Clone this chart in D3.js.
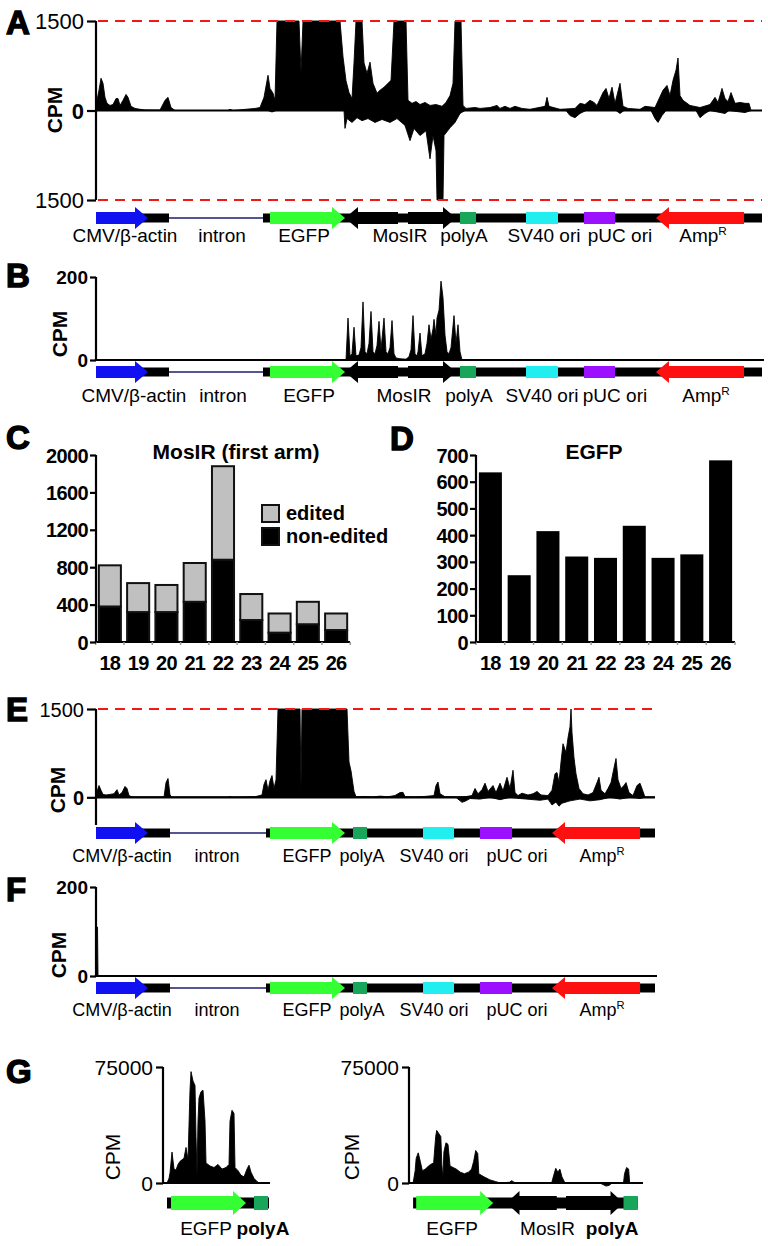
<!DOCTYPE html>
<html><head><meta charset="utf-8">
<script src="https://cdn.jsdelivr.net/npm/d3@7"></script>
<style>
body{margin:0;background:#fff}
svg text{font-family:"Liberation Sans",Arial,Helvetica,sans-serif;fill:#000}
</style>
</head><body><script>
// ================= DATA =================
// Plasmid positions are given in 12-bp bins.
const mosLength = 666;           // pCAG-EGFP-MosIR
const ctlLength = 559;           // pCAG-EGFP (control)
const mosIntron = [73, 167];
const ctlIntron = [74, 170];
// [feature, start, end, orientation]
const mosFeatures = [
  ["promoter", 0, 52, "+"],
  ["EGFP", 174, 249, "+"],
  ["MosIR", 249, 302, "-"],
  ["MosIR", 312, 360, "+"],
  ["polyA", 364, 380, "box"],
  ["SV40", 430, 462, "box"],
  ["pUC", 488, 519, "box"],
  ["AmpR", 560, 648, "-"]
];
const ctlFeatures = [
  ["promoter", 0, 52, "+"],
  ["EGFP", 174, 249, "+"],
  ["polyA", 257, 271, "box"],
  ["SV40", 327, 358, "box"],
  ["pUC", 384, 416, "box"],
  ["AmpR", 456, 544, "-"]
];
const gRightFeatures = [
  ["EGFP", 174, 249, "+"],
  ["MosIR", 262, 311, "-"],
  ["MosIR", 320, 376, "+"],
  ["polyA", 376, 390, "box"]
];
const labelsA = [["CMV/β-actin", 29], ["intron", 126], ["EGFP", 208], ["MosIR", 304], ["polyA", 368], ["SV40 ori", 448], ["pUC ori", 524], ["AmpR", 607]];
const labelsB = [["CMV/β-actin", 38], ["intron", 127], ["EGFP", 213], ["MosIR", 308], ["polyA", 373], ["SV40 ori", 446], ["pUC ori", 519], ["AmpR", 610]];
const labelsCtl = [["CMV/β-actin", 26], ["intron", 121], ["EGFP", 211], ["polyA", 266], ["SV40 ori", 338], ["pUC ori", 421], ["AmpR", 506]];
const labelsGLeft = [["EGFP", 209], ["polyA", 266]];
const labelsGRight = [["EGFP", 209], ["MosIR", 302], ["polyA", 365]];

// Panel A: MosIR plasmid, small RNA coverage (CPM), sense (+) and antisense (-)
const aPlusPos = [0,1,3,5,7,9,11,14,17,20,22,24,27,30,32,35,39,44,49,64,69,72,75,79,132,134,137,159,164,168,172,174,177,179,181,203,205,207,242,244,247,250,253,256,258,260,266,268,271,274,277,281,284,288,292,295,298,310,312,316,320,324,329,334,340,346,350,354,357,359,365,367,370,379,384,394,401,404,409,414,419,426,434,449,451,453,464,479,484,489,494,498,501,507,510,513,516,519,524,527,532,544,549,559,567,571,574,577,580,582,584,587,594,604,614,619,622,626,629,632,635,639,644,649,653,655,666];
const aPlusCpm = [0,170,340,540,455,220,120,85,100,200,200,85,170,270,220,70,35,20,10,8,170,220,50,0,0,20,0,35,50,220,590,370,290,170,4000,4000,640,4000,4000,1600,900,500,300,200,800,4000,4000,800,620,810,455,290,340,390,455,505,4000,4000,170,120,150,100,135,85,100,70,135,250,455,4000,4000,85,35,50,35,50,85,35,70,35,70,35,20,70,220,70,20,35,120,100,170,135,85,300,370,200,390,120,455,70,35,20,70,50,340,420,250,505,675,880,250,170,85,50,100,220,135,370,200,150,300,120,135,120,120,0,0];
const aMinusPos = [0,172,176,180,248,249,251,256,261,266,272,279,286,294,301,309,314,318,324,330,334,337,340,341,347,348,354,359,364,369,470,474,479,484,490,520,524,528,555,559,562,566,570,600,604,609,614,629,633,649,655,666];
const aMinusCpm = [0,0,-25,0,0,-300,-135,-200,-120,-170,-135,-200,-150,-200,-135,-250,-505,-300,-420,-340,-810,-420,-675,-4000,-4000,-420,-290,-200,-50,0,0,-85,-120,-50,0,0,-50,0,0,-135,-200,-85,0,0,-120,-50,0,-50,0,-35,0,0];

// Panel B: 24-29 nt (piRNA-sized) reads, MosIR plasmid
const bPos = [0,250,252,254,256,258,260,263,265,267,269,271,273,275,277,279,281,283,285,288,290,292,294,296,298,300,304,310,313,315,317,319,321,322,324,326,329,331,333,335,337,338,340,341,343,345,347,349,351,353,355,358,360,362,364,366,666];
const bCpm = [0,0,101,10,15,79,10,12,30,140,20,15,40,117,20,15,35,93,25,101,20,15,30,95,15,5,3,2,8,25,107,15,10,20,65,10,15,40,85,50,75,98,60,101,120,190,150,60,20,15,30,107,40,85,20,0,0];

// Panel C: MosIR first arm, reads by length (nt)
const readLengths = ["18","19","20","21","22","23","24","25","26"];
const mosNonEdited = [380,320,320,430,880,235,100,190,128];
const mosEdited = [440,310,290,415,1000,278,205,240,177];
// Panel D: EGFP reads by length
const egfpReads = [635,250,415,320,315,435,315,328,680];

// Panel E: control plasmid, small RNA coverage
const ePlusPos = [0,1,3,5,7,10,14,18,21,23,26,29,31,33,36,44,68,70,72,74,76,132,134,136,159,166,168,170,172,174,176,178,180,182,204,205,206,251,253,255,258,260,269,276,284,292,299,304,307,309,319,329,338,340,342,344,349,359,369,376,379,382,386,389,392,395,397,400,404,407,411,414,417,419,422,426,432,437,441,445,452,456,459,461,463,465,467,470,472,474,475,476,478,480,483,487,492,497,501,503,505,509,512,515,518,520,522,525,528,530,533,537,541,544,547,549,559];
const ePlusCpm = [0,100,200,120,50,40,50,60,130,40,80,185,150,30,5,2,3,250,320,40,0,0,15,0,10,40,220,300,120,280,370,150,300,4000,4000,150,4000,4000,600,450,100,10,15,5,20,10,30,80,85,10,5,15,30,200,260,60,10,5,10,30,150,60,130,240,100,160,200,80,240,110,340,150,460,80,30,70,40,60,100,40,30,120,400,420,250,600,910,760,1010,1200,1600,1100,670,400,150,60,40,80,250,340,120,60,150,250,500,660,300,150,200,250,80,30,200,240,100,0,0];
const eMinusPos = [0,360,362,366,370,374,384,394,404,414,424,444,452,456,460,463,466,474,484,494,504,514,524,534,544,549,559];
const eMinusCpm = [0,0,-30,-85,-60,-20,-30,0,-40,0,-20,-50,-30,-130,-80,-150,-100,-60,-30,-60,-40,0,-30,0,-20,0,0];

// Panel F: control plasmid, 24-29 nt reads
const fPos = [0,0.5,1.5,2,559];
const fCpm = [0,110,110,0,0];

// Panel G: EGFP-polyA region, control (left) and MosIR (right)
const gLeftPos = [170,172,173,175,177,179,181,183,185,187,189,191,193,194,196,198,199,200,201,202,204,206,208,209,213,217,221,225,229,232,233,235,237,238,241,244,247,250,252,254,257,260,262,273];
const gLeftCpm = [0,3000,6500,20000,9000,8400,12000,14000,15000,16000,23000,15000,60000,72000,66000,63000,30000,5000,40000,55000,59000,60000,40000,13000,11000,10000,12000,9000,10000,12000,40000,47000,45000,10000,8000,5000,4000,9000,11500,7000,3000,1000,0,0];
const gRightPos = [171,173,174,176,178,180,183,186,188,191,193,194,196,198,199,200,201,203,205,207,210,213,217,221,225,228,230,232,234,235,240,246,251,256,265,267,270,275,306,308,310,312,314,316,319,353,356,359,362,365,376,377,379,381,382,395];
const gRightCpm = [0,8000,16000,19500,14000,8000,9000,11000,12000,13000,30000,34000,32000,30000,12000,3000,20000,26000,25000,11000,10000,9000,7000,6000,7000,9000,14000,21000,19000,6000,4000,2000,1000,0,500,1500,300,0,0,5000,9500,7000,9000,4000,0,0,-1000,-2000,-1500,0,0,6000,10000,9000,0,0];

// ================= STYLE =================
const featColor = {promoter:"#1010f0", EGFP:"#33ff33", MosIR:"#000000", polyA:"#17a65a", SV40:"#22eef0", pUC:"#9a10ff", AmpR:"#ff1010"};
const FONT = '"Liberation Sans",Arial,Helvetica,sans-serif';

const svg = d3.select("body").append("svg").attr("width", 768).attr("height", 1246);

function letter(t, x, y) {
  svg.append("text").attr("x", x).attr("y", y).text(t)
    .attr("font-size", 33).attr("font-weight", "bold")
    .attr("stroke", "#000").attr("stroke-width", 1.4);
}

function drawMap(x, y, feats, intron, range, labels, opt) {
  const g = svg.append("g");
  const bh = opt.bh || 9, body = opt.body || 12, head = opt.head || 22;
  const segs = [];
  if (intron && intron[0] > range[0] && intron[1] < range[1]) {
    segs.push([range[0], intron[0]], [intron[1], range[1]]);
    g.append("line").attr("x1", x(intron[0])).attr("x2", x(intron[1]))
      .attr("y1", y).attr("y2", y).attr("stroke", "#1c1c6a").attr("stroke-width", 1.3);
  } else segs.push(range);
  segs.forEach(s => g.append("rect").attr("x", x(s[0])).attr("y", y - bh / 2)
    .attr("width", x(s[1]) - x(s[0])).attr("height", bh).attr("fill", "#000"));
  feats.filter(f => f[2] > range[0] && f[1] < range[1]).forEach(f => {
    const x0 = x(f[1]), x1 = x(f[2]), c = featColor[f[0]];
    const hb = body / 2, hh = head / 2;
    if (f[3] === "box") {
      g.append("rect").attr("x", x0).attr("y", y - hb).attr("width", x1 - x0).attr("height", body).attr("fill", c);
    } else {
      const hl = Math.min(13, (x1 - x0) * 0.45);
      let pts;
      if (f[3] === "+") pts = [[x0, y - hb], [x1 - hl, y - hb], [x1 - hl, y - hh], [x1, y], [x1 - hl, y + hh], [x1 - hl, y + hb], [x0, y + hb]];
      else pts = [[x1, y - hb], [x0 + hl, y - hb], [x0 + hl, y - hh], [x0, y], [x0 + hl, y + hh], [x0 + hl, y + hb], [x1, y + hb]];
      g.append("path").attr("d", d3.line()(pts) + "Z").attr("fill", c);
    }
  });
  labels.forEach(l => {
    const t = g.append("text").attr("x", x(l[1])).attr("y", opt.ly).attr("text-anchor", "middle")
      .attr("font-size", opt.fs).attr("font-weight", (opt.bold && opt.bold.includes(l[0])) ? "bold" : "normal");
    if (l[0] === "AmpR") {
      t.append("tspan").text("Amp");
      t.append("tspan").text("R").attr("font-size", opt.fs * 0.62).attr("dy", -opt.fs * 0.38);
    } else t.text(l[0]);
  });
}

function trace(x, y, pos, val) {
  const data = pos.map((p, i) => [p, val[i]]);
  svg.append("path").datum(data)
    .attr("d", d3.area().x(d => x(d[0])).y0(y(0)).y1(d => y(d[1])))
    .attr("fill", "#000").attr("stroke", "#000").attr("stroke-width", 0.9).attr("stroke-linejoin", "round");
}

function yAxis(scale, x, vals, fmt, o) {
  const a = svg.append("g").attr("transform", `translate(${x},0)`)
    .call(d3.axisLeft(scale).tickValues(vals).tickFormat(fmt).tickSize(o.tick).tickSizeOuter(0).tickPadding(o.pad));
  a.select(".domain").remove();
  a.attr("font-family", FONT).attr("font-size", o.fs).attr("font-weight", o.fw || "normal");
  a.selectAll(".tick line").attr("stroke", "#000").attr("stroke-width", 2.2);
  a.selectAll(".tick text").attr("fill", "#000").attr("dy", "0.35em");
  if (o.boldZero) a.selectAll(".tick text").filter(d => d === 0).attr("font-weight", "bold");
  svg.append("line").attr("x1", x).attr("x2", x).attr("y1", o.y1).attr("y2", o.y2)
    .attr("stroke", "#000").attr("stroke-width", 2.2);
  return a;
}

function hline(x1, x2, y, dashed) {
  const l = svg.append("line").attr("x1", x1).attr("x2", x2).attr("y1", y).attr("y2", y);
  if (dashed) l.attr("stroke", "#f01818").attr("stroke-width", 2).attr("stroke-dasharray", "10,7");
  else l.attr("stroke", "#000").attr("stroke-width", 2.2);
}

function cpm(x, y, bold, size) {
  svg.append("text").attr("transform", `translate(${x},${y}) rotate(-90)`)
    .attr("text-anchor", "middle").attr("dy", "0.35em").text("CPM")
    .attr("font-size", size || 21).attr("font-weight", bold ? "bold" : "normal");
}

// ================= PANEL A =================
const xMos = d3.scaleLinear().domain([0, mosLength]).range([96, 762]);
const yA = d3.scaleLinear().domain([-1500, 1500]).range([200, 21]).clamp(true);
letter("A", 6, 34);
trace(xMos, yA, aPlusPos, aPlusCpm);
trace(xMos, yA, aMinusPos, aMinusCpm);
hline(98, 762, yA(1500), true);
hline(98, 762, yA(-1500), true);
hline(96, 762, yA(0), false);
yAxis(yA, 96, [-1500, 0, 1500], d => Math.abs(d), {tick: 9, pad: 3, fs: 22, boldZero: true, y1: yA(1500), y2: yA(-1500)});
cpm(55, 110, true);
drawMap(xMos, 218, mosFeatures, mosIntron, [0, mosLength], labelsA, {ly: 242, fs: 19});

// ================= PANEL B =================
const yB = d3.scaleLinear().domain([0, 200]).range([360, 277]);
letter("B", 6, 287);
trace(xMos, yB, bPos, bCpm);
hline(96, 764, yB(0), false);
yAxis(yB, 96, [0, 200], d => d, {tick: 6, pad: 2, fs: 19, fw: "bold", y1: yB(200), y2: yB(0)});
cpm(60, 334, true);
drawMap(xMos, 372, mosFeatures, mosIntron, [0, mosLength], labelsB, {ly: 402, fs: 19});

// ================= PANEL C =================
const xC = d3.scaleBand().domain(readLengths).range([96, 350]).paddingInner(0.22).paddingOuter(0.1);
const yC = d3.scaleLinear().domain([0, 2000]).range([642, 455]);
letter("C", 6, 449);
const stackC = d3.stack().keys(["nonEdited", "edited"])(readLengths.map((l, i) => ({len: l, nonEdited: mosNonEdited[i], edited: mosEdited[i]})));
const cFill = {nonEdited: "#000", edited: "#c0c0c0"};
stackC.forEach(layer => {
  svg.append("g").selectAll("rect").data(layer).join("rect")
    .attr("x", d => xC(d.data.len)).attr("width", xC.bandwidth())
    .attr("y", d => yC(d[1])).attr("height", d => yC(d[0]) - yC(d[1]))
    .attr("fill", cFill[layer.key]).attr("stroke", "#111").attr("stroke-width", 2);
});
function xBandAxis(xs, y, x1, x2) {
  hline(x1, x2, y, false);
  const step = xs.step(), half = step * xs.paddingInner() / 2;
  const bounds = xs.domain().map(d => xs(d) - half).concat([xs(xs.domain()[xs.domain().length - 1]) + xs.bandwidth() + half]);
  svg.append("g").selectAll("line").data(bounds).join("line")
    .attr("x1", d => d).attr("x2", d => d).attr("y1", y).attr("y2", y + 3)
    .attr("stroke", "#999").attr("stroke-width", 1.5);
  svg.append("g").selectAll("text").data(xs.domain()).join("text")
    .attr("x", d => xs(d) + xs.bandwidth() / 2).attr("y", y + 28).attr("text-anchor", "middle")
    .attr("font-size", 20).attr("font-weight", "bold").attr("letter-spacing", -0.8).text(d => d);
}
xBandAxis(xC, 642, 96, 350);
yAxis(yC, 96, d3.range(0, 2001, 400), d => d, {tick: 6, pad: 2, fs: 20, fw: "bold", y1: yC(2000), y2: yC(0)})
  .selectAll(".tick text").attr("letter-spacing", -0.6);
svg.append("text").attr("x", 236).attr("y", 459).attr("text-anchor", "middle")
  .attr("font-size", 21).attr("font-weight", "bold").text("MosIR (first arm)");
const legC = [["edited", "#c0c0c0"], ["non-edited", "#000"]];
legC.forEach((l, i) => {
  svg.append("rect").attr("x", 262).attr("y", 505 + i * 23).attr("width", 17).attr("height", 17)
    .attr("fill", l[1]).attr("stroke", "#111").attr("stroke-width", 2);
  svg.append("text").attr("x", 286).attr("y", 520 + i * 23).attr("font-size", 20).attr("font-weight", "bold").text(l[0]);
});

// ================= PANEL D =================
const xD = d3.scaleBand().domain(readLengths).range([476, 735]).paddingInner(0.2).paddingOuter(0.1);
const yD = d3.scaleLinear().domain([0, 700]).range([642, 455]);
letter("D", 390, 450);
svg.append("g").selectAll("rect").data(readLengths).join("rect")
  .attr("x", d => xD(d)).attr("width", xD.bandwidth())
  .attr("y", (d, i) => yD(egfpReads[i])).attr("height", (d, i) => yD(0) - yD(egfpReads[i]))
  .attr("fill", "#000");
xBandAxis(xD, 642, 476, 735);
yAxis(yD, 476, d3.range(0, 701, 100), d => d, {tick: 6, pad: 2, fs: 20, fw: "bold", y1: yD(700), y2: yD(0)})
  .selectAll(".tick text").attr("letter-spacing", -0.6);
svg.append("text").attr("x", 594).attr("y", 459).attr("text-anchor", "middle")
  .attr("font-size", 21).attr("font-weight", "bold").text("EGFP");

// ================= PANEL E =================
const xCtl = d3.scaleLinear().domain([0, ctlLength]).range([96, 655]);
const yE = d3.scaleLinear().domain([-470, 1500]).range([825, 709]).clamp(true);
letter("E", 6, 721);
trace(xCtl, yE, ePlusPos, ePlusCpm);
trace(xCtl, yE, eMinusPos, eMinusCpm);
hline(98, 652, yE(1500), true);
hline(96, 655, yE(0), false);
yAxis(yE, 96, [0, 1500], d => d, {tick: 9, pad: 3, fs: 20, boldZero: true, y1: yE(1500), y2: yE(-470)});
cpm(58, 790, true);
drawMap(xCtl, 833, ctlFeatures, ctlIntron, [0, ctlLength], labelsCtl, {ly: 862, fs: 18});

// ================= PANEL F =================
const yF = d3.scaleLinear().domain([0, 200]).range([976, 887]);
letter("F", 6, 901);
trace(xCtl, yF, fPos, fCpm);
hline(96, 657, yF(0), false);
yAxis(yF, 96, [0, 200], d => d, {tick: 6, pad: 2, fs: 19, fw: "bold", y1: yF(200), y2: yF(0)});
cpm(59, 955, true);
drawMap(xCtl, 988, ctlFeatures, ctlIntron, [0, ctlLength], labelsCtl, {ly: 1016, fs: 18});

// ================= PANEL G =================
letter("G", 6, 1083);
const yG = d3.scaleLinear().domain([0, 75000]).range([1183, 1067]);
const xGL = d3.scaleLinear().domain([166, 273]).range([163, 270]);
trace(xGL, yG, gLeftPos, gLeftCpm);
hline(163, 270, yG(0), false);
yAxis(yG, 163, [0, 75000], d => d, {tick: 7, pad: 3, fs: 21, y1: yG(75000), y2: yG(0)});
cpm(113, 1157, false);
drawMap(xGL, 1203, ctlFeatures, null, [170, 272], labelsGLeft, {ly: 1235, fs: 19, bold: ["polyA"], body: 14, head: 24, bh: 11});

const xGR = d3.scaleLinear().domain([167, 395]).range([409, 643]);
trace(xGR, yG, gRightPos, gRightCpm);
hline(409, 643, yG(0), false);
yAxis(yG, 409, [0, 75000], d => d, {tick: 7, pad: 3, fs: 21, y1: yG(75000), y2: yG(0)});
cpm(352, 1157, false);
drawMap(xGR, 1203, gRightFeatures, null, [171, 390], labelsGRight, {ly: 1235, fs: 19, bold: ["polyA"], body: 14, head: 24, bh: 11});
</script></body></html>
